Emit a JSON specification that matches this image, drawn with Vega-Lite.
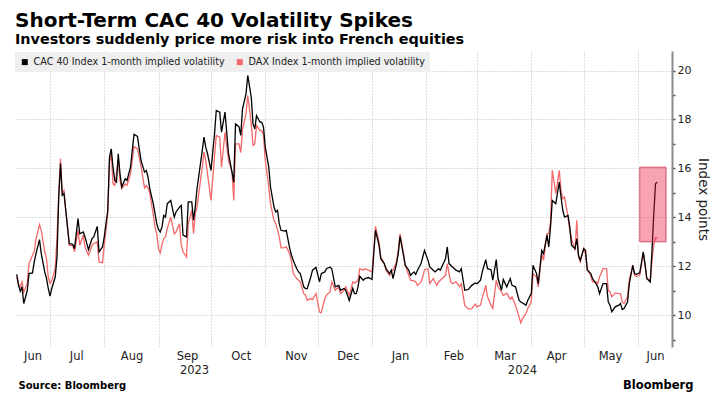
{
  "$schema": "https://vega.github.io/schema/vega-lite/v6.json",
  "width": 657,
  "height": 296,
  "autosize": {"type": "none"},
  "padding": {"left": 15, "top": 51, "right": 49, "bottom": 64},
  "background": "white",
  "title": {
    "text": "Short-Term CAC 40 Volatility Spikes",
    "subtitle": "Investors suddenly price more risk into French equities",
    "anchor": "start",
    "frame": "group",
    "offset": 5,
    "font": "DejaVu Sans",
    "fontSize": 20,
    "fontWeight": "bold",
    "color": "#000000",
    "subtitleFont": "DejaVu Sans",
    "subtitleFontSize": 14.4,
    "subtitleFontWeight": "bold",
    "subtitleColor": "#000000",
    "subtitlePadding": 2
  },
  "data": {
    "values": [
      {"d":"2023-06-12","cac":11.67,"dax":11.56},
      {"d":"2023-06-13","cac":11.22,"dax":11.27},
      {"d":"2023-06-14","cac":10.98,"dax":11.16},
      {"d":"2023-06-15","cac":11.16,"dax":11.36},
      {"d":"2023-06-16","cac":10.48,"dax":10.95},
      {"d":"2023-06-18","cac":11.0,"dax":11.29},
      {"d":"2023-06-19","cac":11.7,"dax":12.11},
      {"d":"2023-06-21","cac":11.73,"dax":12.45},
      {"d":"2023-06-22","cac":12.18,"dax":12.6},
      {"d":"2023-06-23","cac":12.52,"dax":13.1},
      {"d":"2023-06-25","cac":13.09,"dax":13.7},
      {"d":"2023-06-26","cac":12.52,"dax":13.47},
      {"d":"2023-06-28","cac":11.77,"dax":12.59},
      {"d":"2023-06-29","cac":11.5,"dax":12.31},
      {"d":"2023-06-30","cac":11.1,"dax":11.56},
      {"d":"2023-07-01","cac":10.78,"dax":11.3},
      {"d":"2023-07-02","cac":11.09,"dax":11.4},
      {"d":"2023-07-04","cac":11.56,"dax":11.9},
      {"d":"2023-07-05","cac":12.38,"dax":13.2},
      {"d":"2023-07-06","cac":14.83,"dax":15.0},
      {"d":"2023-07-07","cac":16.2,"dax":16.39},
      {"d":"2023-07-08","cac":14.9,"dax":14.97},
      {"d":"2023-07-09","cac":14.97,"dax":15.1},
      {"d":"2023-07-10","cac":14.29,"dax":14.29},
      {"d":"2023-07-11","cac":13.6,"dax":13.6},
      {"d":"2023-07-12","cac":12.93,"dax":12.86},
      {"d":"2023-07-14","cac":12.9,"dax":12.86},
      {"d":"2023-07-15","cac":12.72,"dax":12.59},
      {"d":"2023-07-17","cac":13.95,"dax":13.47},
      {"d":"2023-07-18","cac":13.33,"dax":12.86},
      {"d":"2023-07-20","cac":13.4,"dax":13.27},
      {"d":"2023-07-21","cac":13.2,"dax":12.79},
      {"d":"2023-07-23","cac":12.68,"dax":12.45},
      {"d":"2023-07-25","cac":13.13,"dax":12.86},
      {"d":"2023-07-26","cac":13.2,"dax":12.93},
      {"d":"2023-07-28","cac":13.63,"dax":12.99},
      {"d":"2023-07-29","cac":12.59,"dax":12.18},
      {"d":"2023-07-31","cac":12.79,"dax":12.15},
      {"d":"2023-08-01","cac":13.2,"dax":12.86},
      {"d":"2023-08-03","cac":14.29,"dax":14.15},
      {"d":"2023-08-04","cac":16.46,"dax":16.26},
      {"d":"2023-08-05","cac":16.8,"dax":16.6},
      {"d":"2023-08-06","cac":16.05,"dax":15.37},
      {"d":"2023-08-07","cac":15.51,"dax":15.31},
      {"d":"2023-08-08","cac":15.44,"dax":15.8},
      {"d":"2023-08-09","cac":16.6,"dax":16.33},
      {"d":"2023-08-10","cac":15.78,"dax":15.51},
      {"d":"2023-08-11","cac":15.24,"dax":15.17},
      {"d":"2023-08-13","cac":15.58,"dax":15.37},
      {"d":"2023-08-14","cac":15.51,"dax":15.31},
      {"d":"2023-08-16","cac":16.05,"dax":15.78},
      {"d":"2023-08-18","cac":17.39,"dax":16.9},
      {"d":"2023-08-20","cac":17.31,"dax":16.8},
      {"d":"2023-08-21","cac":16.8,"dax":16.46},
      {"d":"2023-08-22","cac":16.33,"dax":16.1},
      {"d":"2023-08-24","cac":15.85,"dax":15.2},
      {"d":"2023-08-25","cac":15.92,"dax":15.3},
      {"d":"2023-08-26","cac":15.65,"dax":15.2},
      {"d":"2023-08-27","cac":15.17,"dax":15.0},
      {"d":"2023-08-29","cac":14.56,"dax":14.1},
      {"d":"2023-08-30","cac":14.15,"dax":13.61},
      {"d":"2023-08-31","cac":13.74,"dax":13.33},
      {"d":"2023-09-01","cac":13.5,"dax":12.72},
      {"d":"2023-09-02","cac":13.4,"dax":12.54},
      {"d":"2023-09-03","cac":13.61,"dax":12.9},
      {"d":"2023-09-04","cac":14.08,"dax":13.13},
      {"d":"2023-09-05","cac":14.01,"dax":13.2},
      {"d":"2023-09-06","cac":14.56,"dax":13.54},
      {"d":"2023-09-08","cac":14.69,"dax":14.01},
      {"d":"2023-09-10","cac":14.01,"dax":13.33},
      {"d":"2023-09-11","cac":14.22,"dax":13.4},
      {"d":"2023-09-13","cac":14.42,"dax":13.74},
      {"d":"2023-09-14","cac":14.49,"dax":12.86},
      {"d":"2023-09-15","cac":13.27,"dax":12.59},
      {"d":"2023-09-17","cac":13.2,"dax":12.38},
      {"d":"2023-09-18","cac":14.63,"dax":13.74},
      {"d":"2023-09-20","cac":14.63,"dax":14.29},
      {"d":"2023-09-21","cac":13.88,"dax":13.33},
      {"d":"2023-09-22","cac":14.42,"dax":14.15},
      {"d":"2023-09-23","cac":15.17,"dax":14.42},
      {"d":"2023-09-26","cac":16.73,"dax":16.05},
      {"d":"2023-09-27","cac":17.28,"dax":16.67},
      {"d":"2023-09-28","cac":16.87,"dax":16.33},
      {"d":"2023-09-29","cac":16.6,"dax":15.78},
      {"d":"2023-10-01","cac":15.92,"dax":14.69},
      {"d":"2023-10-03","cac":17.41,"dax":16.46},
      {"d":"2023-10-04","cac":18.37,"dax":17.35},
      {"d":"2023-10-06","cac":18.3,"dax":17.28},
      {"d":"2023-10-07","cac":17.48,"dax":16.05},
      {"d":"2023-10-09","cac":18.3,"dax":17.48},
      {"d":"2023-10-11","cac":16.6,"dax":16.33},
      {"d":"2023-10-13","cac":15.85,"dax":15.85},
      {"d":"2023-10-14","cac":15.44,"dax":14.69},
      {"d":"2023-10-15","cac":17.82,"dax":17.0},
      {"d":"2023-10-17","cac":17.7,"dax":17.0},
      {"d":"2023-10-18","cac":17.35,"dax":16.65},
      {"d":"2023-10-19","cac":18.44,"dax":17.6},
      {"d":"2023-10-21","cac":19.05,"dax":18.23},
      {"d":"2023-10-22","cac":19.8,"dax":18.98},
      {"d":"2023-10-24","cac":18.91,"dax":17.82},
      {"d":"2023-10-25","cac":17.82,"dax":16.94},
      {"d":"2023-10-26","cac":17.62,"dax":17.0},
      {"d":"2023-10-27","cac":18.16,"dax":17.76},
      {"d":"2023-10-29","cac":17.89,"dax":17.55},
      {"d":"2023-10-30","cac":17.89,"dax":17.55},
      {"d":"2023-10-31","cac":17.69,"dax":17.35},
      {"d":"2023-11-01","cac":16.87,"dax":16.33},
      {"d":"2023-11-03","cac":16.05,"dax":15.24},
      {"d":"2023-11-04","cac":15.24,"dax":14.56},
      {"d":"2023-11-06","cac":14.42,"dax":13.88},
      {"d":"2023-11-07","cac":14.22,"dax":13.74},
      {"d":"2023-11-08","cac":14.29,"dax":13.5},
      {"d":"2023-11-09","cac":13.74,"dax":13.2},
      {"d":"2023-11-10","cac":13.47,"dax":12.75},
      {"d":"2023-11-12","cac":13.44,"dax":12.76},
      {"d":"2023-11-13","cac":13.47,"dax":12.79},
      {"d":"2023-11-15","cac":12.72,"dax":12.5},
      {"d":"2023-11-16","cac":12.45,"dax":12.2},
      {"d":"2023-11-17","cac":12.24,"dax":11.7},
      {"d":"2023-11-19","cac":11.9,"dax":11.5},
      {"d":"2023-11-20","cac":11.77,"dax":11.43},
      {"d":"2023-11-21","cac":11.7,"dax":11.36},
      {"d":"2023-11-23","cac":11.16,"dax":10.88},
      {"d":"2023-11-24","cac":11.09,"dax":10.82},
      {"d":"2023-11-25","cac":11.09,"dax":10.61},
      {"d":"2023-11-27","cac":11.56,"dax":10.68},
      {"d":"2023-11-28","cac":11.84,"dax":10.64},
      {"d":"2023-11-30","cac":11.95,"dax":10.88},
      {"d":"2023-12-02","cac":11.36,"dax":10.14},
      {"d":"2023-12-03","cac":11.7,"dax":10.1},
      {"d":"2023-12-05","cac":11.77,"dax":10.68},
      {"d":"2023-12-06","cac":11.9,"dax":10.82},
      {"d":"2023-12-08","cac":11.97,"dax":10.95},
      {"d":"2023-12-09","cac":11.9,"dax":11.36},
      {"d":"2023-12-11","cac":11.16,"dax":11.02},
      {"d":"2023-12-13","cac":11.22,"dax":11.16},
      {"d":"2023-12-14","cac":11.02,"dax":10.88},
      {"d":"2023-12-16","cac":11.09,"dax":11.02},
      {"d":"2023-12-17","cac":11.02,"dax":11.16},
      {"d":"2023-12-19","cac":10.6,"dax":10.8},
      {"d":"2023-12-21","cac":11.1,"dax":11.36},
      {"d":"2023-12-22","cac":10.88,"dax":11.32},
      {"d":"2023-12-23","cac":10.88,"dax":11.36},
      {"d":"2023-12-24","cac":11.16,"dax":11.43},
      {"d":"2023-12-25","cac":11.59,"dax":11.9},
      {"d":"2023-12-27","cac":11.43,"dax":11.84},
      {"d":"2023-12-28","cac":11.5,"dax":11.9},
      {"d":"2023-12-30","cac":11.54,"dax":11.84},
      {"d":"2024-01-01","cac":11.46,"dax":11.77},
      {"d":"2024-01-02","cac":12.52,"dax":12.65},
      {"d":"2024-01-03","cac":13.47,"dax":13.63},
      {"d":"2024-01-05","cac":12.86,"dax":12.99},
      {"d":"2024-01-06","cac":12.31,"dax":12.38},
      {"d":"2024-01-08","cac":12.11,"dax":12.11},
      {"d":"2024-01-09","cac":11.9,"dax":11.84},
      {"d":"2024-01-11","cac":11.7,"dax":11.63},
      {"d":"2024-01-12","cac":11.84,"dax":11.8},
      {"d":"2024-01-13","cac":11.5,"dax":11.84},
      {"d":"2024-01-15","cac":12.11,"dax":12.18},
      {"d":"2024-01-16","cac":12.52,"dax":12.65},
      {"d":"2024-01-17","cac":13.22,"dax":13.33},
      {"d":"2024-01-19","cac":12.45,"dax":12.52},
      {"d":"2024-01-20","cac":12.04,"dax":12.04},
      {"d":"2024-01-22","cac":11.84,"dax":11.63},
      {"d":"2024-01-23","cac":11.63,"dax":11.43},
      {"d":"2024-01-25","cac":11.77,"dax":11.4},
      {"d":"2024-01-26","cac":11.67,"dax":11.36},
      {"d":"2024-01-27","cac":11.84,"dax":11.22},
      {"d":"2024-01-29","cac":12.11,"dax":11.36},
      {"d":"2024-01-30","cac":12.38,"dax":11.56},
      {"d":"2024-01-31","cac":12.65,"dax":11.86},
      {"d":"2024-02-02","cac":12.24,"dax":11.9},
      {"d":"2024-02-03","cac":11.97,"dax":11.29},
      {"d":"2024-02-05","cac":11.84,"dax":11.5},
      {"d":"2024-02-06","cac":11.77,"dax":11.36},
      {"d":"2024-02-07","cac":11.84,"dax":11.22},
      {"d":"2024-02-08","cac":11.9,"dax":11.36},
      {"d":"2024-02-09","cac":11.84,"dax":11.43},
      {"d":"2024-02-12","cac":12.31,"dax":11.63},
      {"d":"2024-02-13","cac":12.79,"dax":12.11},
      {"d":"2024-02-14","cac":12.11,"dax":11.7},
      {"d":"2024-02-15","cac":12.04,"dax":11.36},
      {"d":"2024-02-16","cac":11.97,"dax":11.29},
      {"d":"2024-02-18","cac":11.84,"dax":11.36},
      {"d":"2024-02-20","cac":11.77,"dax":11.16},
      {"d":"2024-02-21","cac":11.9,"dax":11.29},
      {"d":"2024-02-23","cac":11.02,"dax":10.4},
      {"d":"2024-02-25","cac":11.05,"dax":10.25},
      {"d":"2024-02-27","cac":11.22,"dax":10.27},
      {"d":"2024-02-29","cac":11.32,"dax":10.45},
      {"d":"2024-03-01","cac":11.29,"dax":10.34},
      {"d":"2024-03-03","cac":11.43,"dax":10.41},
      {"d":"2024-03-04","cac":11.77,"dax":10.7},
      {"d":"2024-03-06","cac":12.27,"dax":11.22},
      {"d":"2024-03-07","cac":11.9,"dax":10.75},
      {"d":"2024-03-09","cac":11.86,"dax":10.41},
      {"d":"2024-03-10","cac":11.43,"dax":10.27},
      {"d":"2024-03-12","cac":12.27,"dax":11.43},
      {"d":"2024-03-13","cac":11.5,"dax":11.16},
      {"d":"2024-03-15","cac":11.02,"dax":10.95},
      {"d":"2024-03-16","cac":11.46,"dax":10.8},
      {"d":"2024-03-18","cac":11.16,"dax":10.9},
      {"d":"2024-03-20","cac":11.5,"dax":10.65},
      {"d":"2024-03-21","cac":11.22,"dax":10.75},
      {"d":"2024-03-23","cac":11.16,"dax":10.4},
      {"d":"2024-03-25","cac":10.61,"dax":9.93},
      {"d":"2024-03-26","cac":10.54,"dax":9.69},
      {"d":"2024-03-27","cac":10.5,"dax":9.86},
      {"d":"2024-03-29","cac":10.41,"dax":10.07},
      {"d":"2024-03-30","cac":10.61,"dax":10.27},
      {"d":"2024-04-01","cac":10.88,"dax":10.54},
      {"d":"2024-04-02","cac":12.04,"dax":11.7},
      {"d":"2024-04-04","cac":11.7,"dax":11.56},
      {"d":"2024-04-05","cac":11.29,"dax":11.16},
      {"d":"2024-04-07","cac":12.65,"dax":12.52},
      {"d":"2024-04-08","cac":12.52,"dax":12.24},
      {"d":"2024-04-10","cac":13.27,"dax":13.33},
      {"d":"2024-04-11","cac":12.79,"dax":13.33},
      {"d":"2024-04-12","cac":13.61,"dax":13.81},
      {"d":"2024-04-13","cac":14.69,"dax":15.92},
      {"d":"2024-04-15","cac":14.56,"dax":14.97},
      {"d":"2024-04-17","cac":15.44,"dax":15.92},
      {"d":"2024-04-18","cac":14.83,"dax":15.1},
      {"d":"2024-04-19","cac":14.29,"dax":14.76},
      {"d":"2024-04-20","cac":14.01,"dax":14.83},
      {"d":"2024-04-22","cac":14.08,"dax":14.01},
      {"d":"2024-04-23","cac":13.61,"dax":13.47},
      {"d":"2024-04-24","cac":12.86,"dax":13.13},
      {"d":"2024-04-26","cac":12.72,"dax":12.65},
      {"d":"2024-04-27","cac":13.13,"dax":13.88},
      {"d":"2024-04-28","cac":12.45,"dax":12.38},
      {"d":"2024-04-29","cac":12.24,"dax":12.18},
      {"d":"2024-05-01","cac":12.72,"dax":12.72},
      {"d":"2024-05-02","cac":12.65,"dax":12.5},
      {"d":"2024-05-03","cac":11.84,"dax":11.9},
      {"d":"2024-05-05","cac":11.7,"dax":11.63},
      {"d":"2024-05-06","cac":11.5,"dax":11.36},
      {"d":"2024-05-08","cac":11.29,"dax":11.36},
      {"d":"2024-05-09","cac":11.16,"dax":11.29},
      {"d":"2024-05-10","cac":10.88,"dax":11.56},
      {"d":"2024-05-12","cac":11.29,"dax":11.9},
      {"d":"2024-05-14","cac":11.29,"dax":11.9},
      {"d":"2024-05-15","cac":10.54,"dax":11.02},
      {"d":"2024-05-16","cac":10.41,"dax":10.95},
      {"d":"2024-05-17","cac":10.14,"dax":10.75},
      {"d":"2024-05-19","cac":10.34,"dax":10.91},
      {"d":"2024-05-21","cac":10.41,"dax":10.88},
      {"d":"2024-05-22","cac":10.48,"dax":10.88},
      {"d":"2024-05-23","cac":10.23,"dax":10.54},
      {"d":"2024-05-24","cac":10.27,"dax":10.48},
      {"d":"2024-05-26","cac":10.54,"dax":10.75},
      {"d":"2024-05-27","cac":11.29,"dax":11.43},
      {"d":"2024-05-29","cac":12.04,"dax":12.04},
      {"d":"2024-05-30","cac":11.7,"dax":11.63},
      {"d":"2024-05-31","cac":11.67,"dax":11.59},
      {"d":"2024-06-02","cac":11.73,"dax":11.63},
      {"d":"2024-06-04","cac":12.59,"dax":12.54},
      {"d":"2024-06-05","cac":12.11,"dax":12.04},
      {"d":"2024-06-06","cac":11.5,"dax":11.5},
      {"d":"2024-06-08","cac":11.36,"dax":11.43},
      {"d":"2024-06-09","cac":12.65,"dax":12.24},
      {"d":"2024-06-10","cac":14.15,"dax":12.9},
      {"d":"2024-06-11","cac":15.37,"dax":13.17},
      {"d":"2024-06-12","cac":15.44,"dax":13.13}
    ]
  },
  "layer": [
    {
      "mark": {"type": "line", "strokeWidth": 1.3, "interpolate": "linear"},
      "encoding": {
        "x": {
          "field": "d", "type": "temporal",
          "scale": {"type": "utc", "domain": [{"year": 2023, "month": 6, "date": 11, "utc": true}, {"year": 2024, "month": 6, "date": 20, "hours": 10, "utc": true}]},
          "axis": {"orient": "bottom", "tickCount": {"interval": "month", "step": 1}, "labels": false, "ticks": false, "domain": false, "grid": true, "gridDash": [1, 2], "gridColor": "#bdbdbd", "gridWidth": 1, "title": null}
        },
        "y": {
          "field": "dax", "type": "quantitative",
          "scale": {"domain": [8.7, 20.8], "nice": false, "zero": false},
          "axis": {"orient": "right", "title": "Index points", "values": [9, 10, 11, 12, 13, 14, 15, 16, 17, 18, 19, 20], "labelExpr": "datum.value % 2 == 0 ? datum.label : ''", "grid": true, "gridDash": [1, 2], "gridColor": "#bdbdbd", "gridOpacity": {"condition": {"test": "datum.value % 2 == 0", "value": 1}, "value": 0}, "domainColor": "#8c8c8c", "domainWidth": 2, "tickSize": 3, "tickColor": "#555555", "tickWidth": 1.5, "labelPadding": 2, "labelFontSize": 11, "labelColor": "#222222", "titleFontSize": 13.5, "titleFontWeight": "normal", "titlePadding": 5, "titleColor": "#222222"}
        },
        "color": {
          "datum": "DAX Index 1-month implied volatility", "type": "nominal",
          "scale": {"domain": ["CAC 40 Index 1-month implied volatility", "DAX Index 1-month implied volatility"], "range": ["#000000", "#f4686a"]},
          "legend": {"title": null, "orient": "none", "legendX": 0, "legendY": 1, "direction": "horizontal", "fillColor": "#efefef", "padding": 5, "symbolType": "square", "symbolSize": 36, "symbolStrokeWidth": 0, "labelFont": "DejaVu Sans", "labelFontSize": 9.6, "labelColor": "#222222", "labelLimit": 300, "labelOffset": 4, "columnPadding": 10, "encode": {"symbols": {"update": {"fill": {"scale": "color", "field": "value"}, "fillOpacity": {"value": 1}}}}}
        }
      }
    },
    {
      "mark": {"type": "line", "strokeWidth": 1.3, "interpolate": "linear"},
      "encoding": {
        "x": {
          "field": "d", "type": "temporal",
          "scale": {"type": "utc", "domain": [{"year": 2023, "month": 6, "date": 11, "utc": true}, {"year": 2024, "month": 6, "date": 20, "hours": 10, "utc": true}]},
          "axis": {
            "orient": "bottom",
            "values": [
              {"year": 2023, "month": 6, "date": 21, "utc": true},
              {"year": 2023, "month": 7, "date": 16, "utc": true},
              {"year": 2023, "month": 8, "date": 16, "hours": 14, "utc": true},
              {"year": 2023, "month": 9, "date": 17, "hours": 7, "utc": true},
              {"year": 2023, "month": 10, "date": 18, "utc": true},
              {"year": 2023, "month": 11, "date": 18, "hours": 12, "utc": true},
              {"year": 2023, "month": 12, "date": 18, "hours": 5, "utc": true},
              {"year": 2024, "month": 1, "date": 17, "utc": true},
              {"year": 2024, "month": 2, "date": 16, "hours": 12, "utc": true},
              {"year": 2024, "month": 3, "date": 16, "hours": 17, "utc": true},
              {"year": 2024, "month": 4, "date": 15, "hours": 5, "utc": true},
              {"year": 2024, "month": 5, "date": 16, "utc": true},
              {"year": 2024, "month": 6, "date": 10, "hours": 17, "utc": true}
            ],
            "labelExpr": "utcFormat(datum.value, '%b')",
            "ticks": false, "domain": false, "grid": false, "labelFlush": false, "labelOverlap": false,
            "labelFontSize": 11.5, "labelPadding": 3, "labelColor": "#222222",
            "title": "Bloomberg", "titleX": 678, "titleY": 32, "titleAlign": "right", "titleBaseline": "top", "titleFontSize": 11.5, "titleFontWeight": "bold", "titleColor": "#000000"
          }
        },
        "y": {
          "field": "cac", "type": "quantitative",
          "scale": {"domain": [8.7, 20.8], "nice": false, "zero": false},
          "axis": {"orient": "right", "title": "Index points", "values": [9, 10, 11, 12, 13, 14, 15, 16, 17, 18, 19, 20], "labelExpr": "datum.value % 2 == 0 ? datum.label : ''", "grid": true, "gridDash": [1, 2], "gridColor": "#bdbdbd", "gridOpacity": {"condition": {"test": "datum.value % 2 == 0", "value": 1}, "value": 0}, "domainColor": "#8c8c8c", "domainWidth": 2, "tickSize": 3, "tickColor": "#555555", "tickWidth": 1.5, "labelPadding": 2, "labelFontSize": 11, "labelColor": "#222222", "titleFontSize": 13.5, "titleFontWeight": "normal", "titlePadding": 5, "titleColor": "#222222"}
        },
        "color": {
          "datum": "CAC 40 Index 1-month implied volatility", "type": "nominal",
          "scale": {"domain": ["CAC 40 Index 1-month implied volatility", "DAX Index 1-month implied volatility"], "range": ["#000000", "#f4686a"]},
          "legend": {"title": null, "orient": "none", "legendX": 0, "legendY": 1, "direction": "horizontal", "fillColor": "#efefef", "padding": 5, "symbolType": "square", "symbolSize": 36, "symbolStrokeWidth": 0, "labelFont": "DejaVu Sans", "labelFontSize": 9.6, "labelColor": "#222222", "labelLimit": 300, "labelOffset": 4, "columnPadding": 10, "encode": {"symbols": {"update": {"fill": {"scale": "color", "field": "value"}, "fillOpacity": {"value": 1}}}}}
        }
      }
    },
    {
      "data": {"values": [{"x1": "2024-06-02", "x2": "2024-06-17", "lo": 13, "hi": 16.05}]},
      "mark": {"type": "rect", "fill": "#eb193e", "fillOpacity": 0.4, "stroke": "#d0405c", "strokeOpacity": 0.9, "strokeWidth": 1},
      "encoding": {
        "x": {
          "field": "x1", "type": "temporal",
          "scale": {"type": "utc", "domain": [{"year": 2023, "month": 6, "date": 11, "utc": true}, {"year": 2024, "month": 6, "date": 20, "hours": 10, "utc": true}]},
          "axis": {
            "orient": "bottom",
            "values": [{"year": 2023, "month": 9, "date": 21, "hours": 7, "utc": true}, {"year": 2024, "month": 3, "date": 26, "hours": 17, "utc": true}],
            "labelExpr": "utcFormat(datum.value, '%Y')",
            "ticks": false, "domain": false, "grid": false, "labelFlush": false, "labelOverlap": false,
            "labelFontSize": 11.5, "labelPadding": 17, "labelColor": "#222222",
            "title": "Source: Bloomberg", "titleX": 3, "titleY": 33, "titleAlign": "left", "titleBaseline": "top", "titleFontSize": 10, "titleFontWeight": "bold", "titleColor": "#000000"
          }
        },
        "x2": {"field": "x2"},
        "y": {
          "field": "lo", "type": "quantitative",
          "scale": {"domain": [8.7, 20.8], "nice": false, "zero": false},
          "axis": {"orient": "right", "title": "Index points", "values": [9, 10, 11, 12, 13, 14, 15, 16, 17, 18, 19, 20], "labelExpr": "datum.value % 2 == 0 ? datum.label : ''", "grid": true, "gridDash": [1, 2], "gridColor": "#bdbdbd", "gridOpacity": {"condition": {"test": "datum.value % 2 == 0", "value": 1}, "value": 0}, "domainColor": "#8c8c8c", "domainWidth": 2, "tickSize": 3, "tickColor": "#555555", "tickWidth": 1.5, "labelPadding": 2, "labelFontSize": 11, "labelColor": "#222222", "titleFontSize": 13.5, "titleFontWeight": "normal", "titlePadding": 5, "titleColor": "#222222"}
        },
        "y2": {"field": "hi"}
      }
    }
  ],
  "resolve": {"axis": {"x": "independent"}},
  "config": {
    "view": {"stroke": null},
    "font": "DejaVu Sans",
    "axis": {"labelFont": "DejaVu Sans", "titleFont": "DejaVu Sans"},
    "legend": {"labelFont": "DejaVu Sans"}
  }
}
